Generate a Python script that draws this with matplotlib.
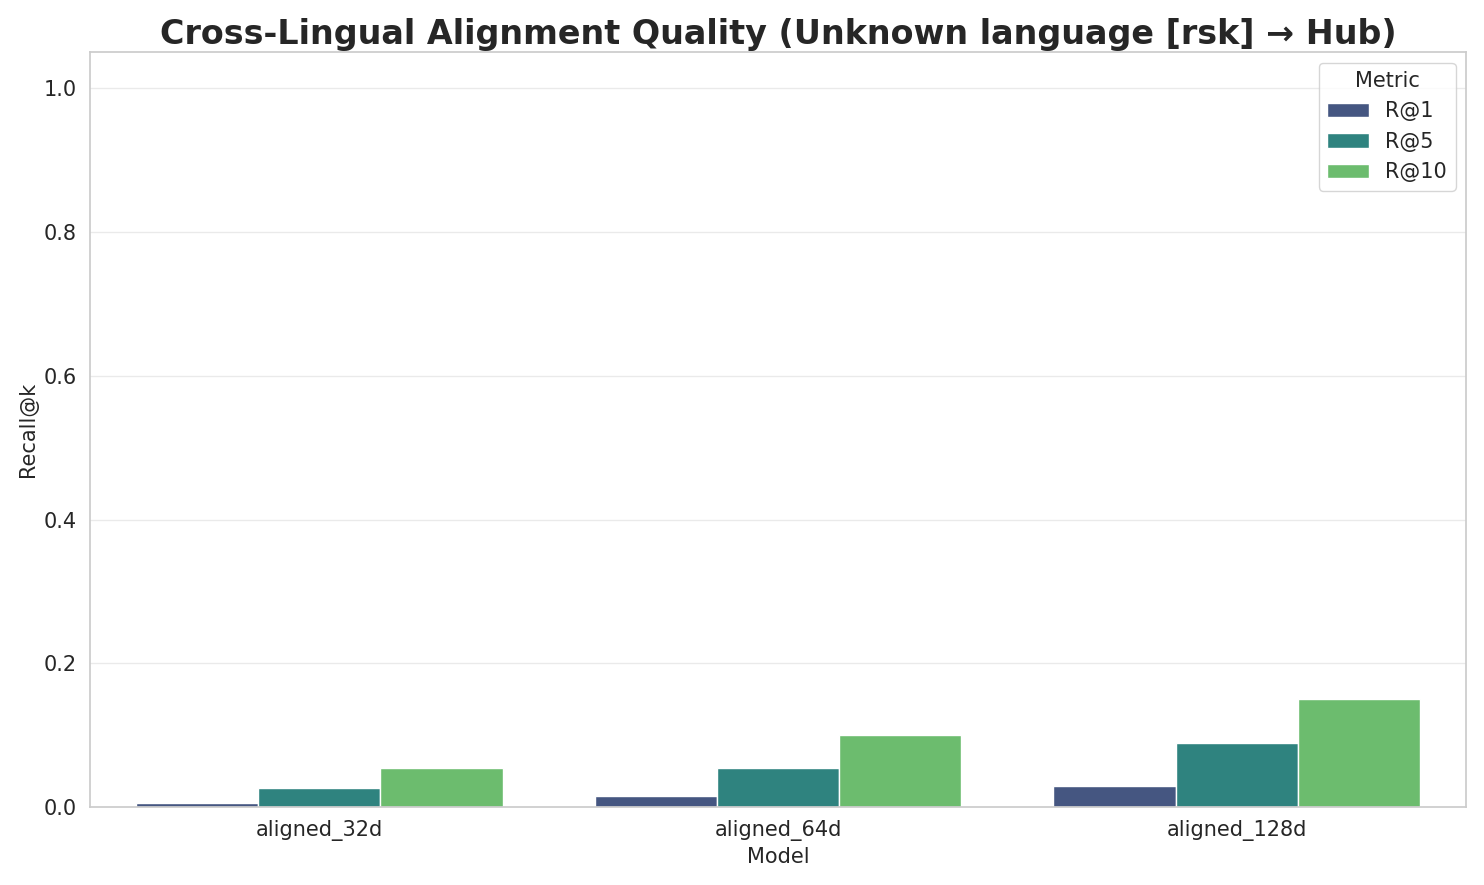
import matplotlib
matplotlib.use("Agg")
import matplotlib.pyplot as plt
import seaborn as sns
import pandas as pd

models = ["aligned_32d", "aligned_64d", "aligned_128d"]
metrics = ["R@1", "R@5", "R@10"]
r1 = [0.006, 0.015, 0.029]
r5 = [0.027, 0.054, 0.089]
r10 = [0.054, 0.101, 0.151]

rows = []
for i, m in enumerate(models):
    for met, vals in zip(metrics, [r1, r5, r10]):
        rows.append({"Model": m, "Metric": met, "Recall@k": vals[i]})
df = pd.DataFrame(rows)

sns.set_theme(style="whitegrid")
fig, ax = plt.subplots(figsize=(14.84, 8.85), dpi=100)
sns.barplot(data=df, x="Model", y="Recall@k", hue="Metric", palette="viridis",
            edgecolor="white", linewidth=1.0, ax=ax)
ax.set_ylim(0, 1.05)
ax.set_title("Cross-Lingual Alignment Quality (Unknown language [rsk] → Hub)",
             fontsize=24, fontweight="bold")
ax.set_xlabel("Model", fontsize=15)
ax.set_ylabel("Recall@k", fontsize=15)
ax.tick_params(labelsize=15)
ax.grid(axis="x", visible=False)
ax.grid(axis="y", alpha=0.4)
ax.legend(title="Metric", loc="upper right", fontsize=15, title_fontsize=15)
fig.tight_layout()
fig.savefig("out.png", dpi=100)
